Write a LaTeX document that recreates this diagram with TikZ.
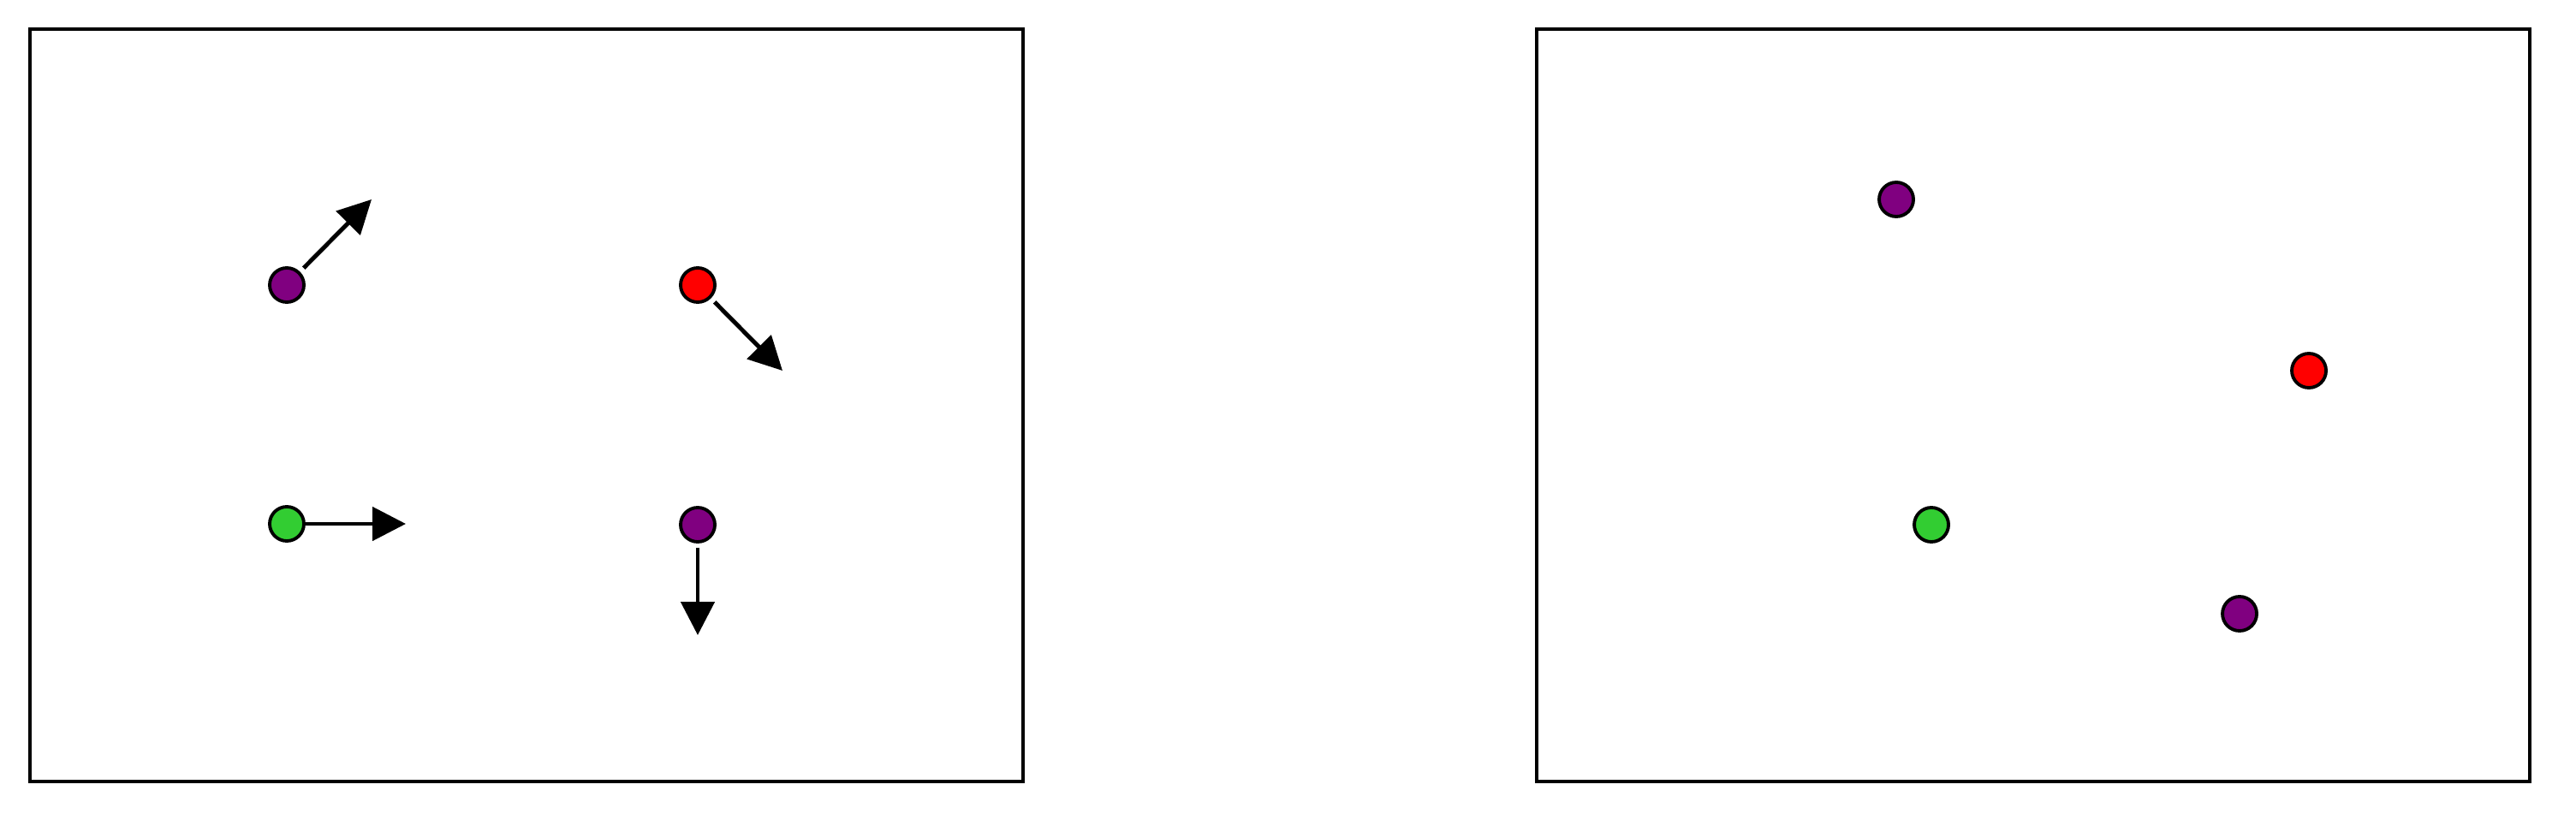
\documentclass[tikz,border=0pt]{standalone}
\usepackage{xcolor}
\usepackage{tikz}
\usetikzlibrary{arrows.meta, positioning, calc}
\definecolor{ballpurple}{RGB}{128,0,128}
\definecolor{ballgreen}{RGB}{50,205,50}
\definecolor{ballred}{RGB}{255,0,0}
\tikzstyle{panel} = [draw=black, line width=1.15pt]
\tikzstyle{ball} = [circle, draw=black, line width=1.1pt, minimum size=0.4cm, inner sep=0pt]
\tikzstyle{arrow} = [line width=1.4pt, -{Triangle[length=0.39cm, width=0.39cm]}]

\begin{document}
\begin{tikzpicture}
  \useasboundingbox (0,0) rectangle (30.09,-9.65);

  % Left panel (with velocities)
  \draw[panel] (0.35,-0.34) rectangle (11.95,-9.13);
  \node (lp1) [ball, fill=ballpurple] at (3.35,-3.33) {};
  \node (lr1) [ball, fill=ballred] at (8.15,-3.33) {};
  \node (lg1) [ball, fill=ballgreen] at (3.35,-6.12) {};
  \node (lp2) [ball, fill=ballpurple] at (8.15,-6.13) {};

  \coordinate (tp1) at (4.34,-2.33);
  \coordinate (tr1) at (9.14,-4.33);
  \coordinate (tg1) at (4.74,-6.12);
  \coordinate (tp2) at (8.15,-7.42);

  \draw[arrow, shorten <=0.06cm] (lp1) -- (tp1);
  \draw[arrow, shorten <=0.06cm] (lr1) -- (tr1);
  \draw[arrow] (lg1) -- (tg1);
  \draw[arrow, shorten <=0.05cm] (lp2) -- (tp2);

  % Right panel (new positions)
  \draw[panel] (17.95,-0.34) rectangle (29.55,-9.13);
  \node (rp1) [ball, fill=ballpurple] at (22.15,-2.33) {};
  \node (rr1) [ball, fill=ballred] at (26.97,-4.33) {};
  \node (rg1) [ball, fill=ballgreen] at (22.56,-6.13) {};
  \node (rp2) [ball, fill=ballpurple] at (26.16,-7.17) {};
\end{tikzpicture}
\end{document}
